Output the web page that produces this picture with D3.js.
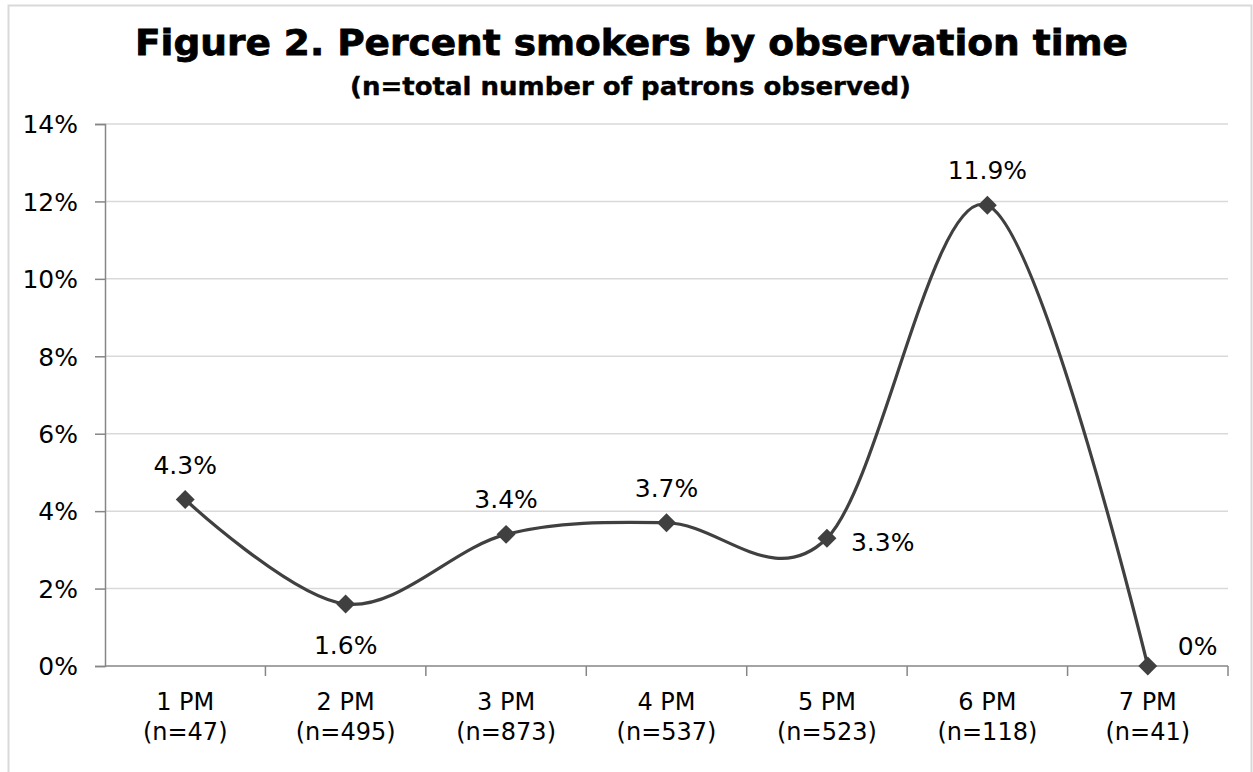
<!DOCTYPE html>
<html>
<head>
<meta charset="utf-8">
<script src="https://cdn.jsdelivr.net/npm/d3@7/dist/d3.min.js"></script>
<style>
  html, body { margin: 0; padding: 0; background: #fff; }
  svg { display: block; }
  text { font-family: "DejaVu Sans", Verdana, sans-serif; fill: #000; }
</style>
</head>
<body>
<svg id="chart" width="1253" height="772"></svg>
<script>
// Observation times and sample sizes
const times = ["1 PM", "2 PM", "3 PM", "4 PM", "5 PM", "6 PM", "7 PM"];
const patrons = [47, 495, 873, 537, 523, 118, 41];
// Percent of patrons smoking at each time
const smokerPct = [4.3, 1.6, 3.4, 3.7, 3.3, 11.9, 0];
const valueLabels = ["4.3%", "1.6%", "3.4%", "3.7%", "3.3%", "11.9%", "0%"];
// Y axis ticks
const yTicks = [0, 2, 4, 6, 8, 10, 12, 14];

// Where each value label sits relative to its marker
const labelSide = ["above", "below", "above", "above", "right", "above", "rightHigh"];

const svg = d3.select("#chart");
const plot = { left: 105, right: 1228, top: 124, bottom: 666 };

// Outer chart frame
svg.append("rect")
  .attr("x", 8.5).attr("y", 5.5)
  .attr("width", 1243).attr("height", 820)
  .attr("fill", "none").attr("stroke", "#d9d9d9").attr("stroke-width", 2);

// Titles
svg.append("text")
  .attr("x", 631.5).attr("y", 55)
  .attr("text-anchor", "middle")
  .attr("font-size", 36).attr("font-weight", "bold")
  .attr("stroke", "#000").attr("stroke-width", 0.8)
  .attr("textLength", 993).attr("lengthAdjust", "spacingAndGlyphs")
  .text("Figure 2. Percent smokers by observation time");
svg.append("text")
  .attr("x", 630.5).attr("y", 95)
  .attr("text-anchor", "middle")
  .attr("font-size", 25).attr("font-weight", "bold")
  .attr("stroke", "#000").attr("stroke-width", 0.4)
  .attr("textLength", 561).attr("lengthAdjust", "spacingAndGlyphs")
  .text("(n=total number of patrons observed)");

const x = d3.scaleBand().domain(times).range([plot.left, plot.right]).padding(0);
const y = d3.scaleLinear().domain([0, 14]).range([plot.bottom, plot.top]);
const cx = d => x(d) + x.bandwidth() / 2;

// Horizontal gridlines
svg.append("g")
  .selectAll("line")
  .data(yTicks.filter(t => t > 0))
  .join("line")
  .attr("x1", plot.left).attr("x2", plot.right)
  .attr("y1", d => y(d)).attr("y2", d => y(d))
  .attr("stroke", "#d9d9d9").attr("stroke-width", 1.5);

// Y axis
const yAxis = svg.append("g")
  .attr("transform", `translate(${plot.left},0)`)
  .call(d3.axisLeft(y).tickValues(yTicks).tickSize(10).tickPadding(17)
    .tickFormat(d => d + "%"));
yAxis.select(".domain").attr("stroke", "#868686").attr("stroke-width", 1.5);
yAxis.selectAll(".tick line").attr("stroke", "#868686").attr("stroke-width", 1.5);
yAxis.selectAll(".tick text")
  .attr("font-size", 25).attr("font-family", "DejaVu Sans").attr("fill", "#000")
  .attr("dy", "0.35em");

// X axis: line with ticks on category boundaries
const boundaries = d3.range(times.length + 1).map(i => plot.left + i * x.bandwidth());
const xg = svg.append("g");
xg.append("line")
  .attr("x1", plot.left).attr("x2", plot.right)
  .attr("y1", plot.bottom).attr("y2", plot.bottom)
  .attr("stroke", "#868686").attr("stroke-width", 1.5);
xg.selectAll("line.tk")
  .data(boundaries.slice(1))
  .join("line").attr("class", "tk")
  .attr("x1", d => d).attr("x2", d => d)
  .attr("y1", plot.bottom).attr("y2", plot.bottom + 10)
  .attr("stroke", "#868686").attr("stroke-width", 1.5);

// Category labels, two lines each
const catLabels = xg.selectAll("text.cat")
  .data(times)
  .join("text").attr("class", "cat")
  .attr("text-anchor", "middle")
  .attr("font-size", 24);
catLabels.append("tspan")
  .attr("x", d => cx(d)).attr("y", 710)
  .text(d => d);
catLabels.append("tspan")
  .attr("x", d => cx(d)).attr("y", 740)
  .text((d, i) => `(n=${patrons[i]})`);

// Smoothed series line
const pts = times.map((t, i) => ({ t, v: smokerPct[i], label: valueLabels[i], side: labelSide[i] }));
const line = d3.line()
  .x(d => cx(d.t))
  .y(d => y(d.v))
  .curve(d3.curveCardinal.tension(0));
svg.append("path")
  .datum(pts)
  .attr("d", line)
  .attr("fill", "none")
  .attr("stroke", "#404040")
  .attr("stroke-width", 3.2);

// Diamond markers
const diamond = d3.symbol().type(d3.symbolSquare).size(180);
svg.append("g")
  .selectAll("path")
  .data(pts)
  .join("path")
  .attr("d", diamond)
  .attr("transform", d => `translate(${cx(d.t)},${y(d.v)}) rotate(45)`)
  .attr("fill", "#404040");

// Value labels
svg.append("g")
  .selectAll("text")
  .data(pts)
  .join("text")
  .attr("font-size", 25)
  .attr("text-anchor", d => d.side.startsWith("right") ? "start" : "middle")
  .attr("x", d => cx(d.t) + (d.side === "right" ? 24 : d.side === "rightHigh" ? 30 : 0))
  .attr("y", d => {
    const py = y(d.v);
    if (d.side === "above") return py - 26;
    if (d.side === "below") return py + 50;
    if (d.side === "right") return py + 13;
    return py - 11;
  })
  .text(d => d.label);
</script>
</body>
</html>
